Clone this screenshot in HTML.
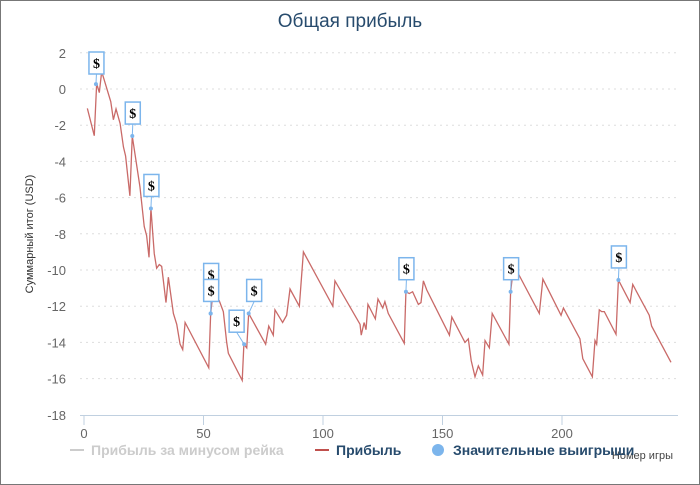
<!DOCTYPE html>
<html><head><meta charset="utf-8"><style>
body{margin:0;background:#fff;}
#wrap{position:relative;width:700px;height:485px;box-sizing:border-box;border:1px solid #777;overflow:hidden;font-family:"Liberation Sans","DejaVu Sans",sans-serif;}
</style></head><body>
<div id="wrap">
<svg id="c" width="700" height="485" style="position:absolute;left:-1px;top:-1px"></svg>
</div>
<script>
const gameX=[1.4,4.3,5.3,6.4,7.4,11.2,12.3,13.4,15.1,16.5,17.4,19.2,20.2,23.4,25.2,26.2,27.2,28.0,29.4,30.4,31.5,32.5,34.3,35.3,37.4,38.8,40.2,41.3,42.3,52.2,53.0,53.6,56.6,58.3,59.7,60.4,66.2,66.9,68.1,68.9,76.0,77.3,79.2,79.9,83.1,84.8,86.2,90.1,91.8,104.1,105.0,115.5,116.0,117.2,118.0,118.8,121.9,123.0,125.0,125.9,127.3,134.0,134.7,136.1,137.5,139.9,141.0,142.0,143.4,152.9,153.9,159.4,160.8,162.0,163.6,165.0,166.8,167.8,169.6,170.8,177.8,178.5,179.4,181.7,190.5,192.0,199.6,200.6,207.5,208.7,212.7,213.8,214.5,215.6,216.6,217.7,222.6,223.6,228.5,229.6,236.5,237.5,245.6];
const profit=[-1.07,-2.58,0.31,-0.2,0.96,-0.7,-1.7,-1.1,-1.9,-3.2,-3.7,-5.9,-2.6,-5.4,-7.6,-8.1,-9.3,-6.6,-9.1,-9.9,-9.7,-9.8,-11.8,-10.4,-12.4,-13.0,-14.1,-14.4,-12.9,-15.4,-12.4,-11.7,-11.7,-12.3,-14.0,-14.6,-16.1,-14.1,-14.3,-12.4,-14.1,-13.1,-13.6,-12.2,-12.9,-12.5,-11.05,-12.0,-9.0,-12.0,-10.6,-13.0,-13.6,-12.9,-13.3,-11.9,-12.7,-11.6,-12.1,-11.75,-12.4,-14.05,-11.2,-11.3,-11.2,-11.9,-11.8,-10.6,-11.1,-13.6,-12.6,-14.0,-13.8,-15.0,-15.9,-15.3,-15.8,-13.9,-14.3,-12.4,-14.1,-11.2,-10.2,-10.2,-12.4,-10.5,-12.5,-12.1,-13.8,-14.9,-15.9,-13.9,-14.1,-12.2,-12.3,-12.3,-13.55,-10.55,-11.8,-10.8,-12.5,-13.1,-15.1];
const winX=[5.0,20.2,28.0,53.0,53.0,67.0,68.9,134.7,178.5,223.6];
const winY=[0.27,-2.6,-6.6,-12.4,-12.4,-14.1,-12.4,-11.2,-11.2,-10.55];
const yTicks=[2,0,-2,-4,-6,-8,-10,-12,-14,-16,-18];
const xTicks=[0,50,100,150,200];
// style: flag offsets
const flagDX=[0,0,0,0,0,-8,5,0,0,0];
const flagDY=[0,0,0,-16,0,0,0,0,0,0];

const NS="http://www.w3.org/2000/svg";
const svg=document.getElementById('c');
const X=v=>84+v*2.39;
const Y=v=>89-v*18.1;
function mk(t,a,p){const e=document.createElementNS(NS,t);for(const k in a)e.setAttribute(k,a[k]);(p||svg).appendChild(e);return e;}

let t=mk('text',{x:350,y:27,'text-anchor':'middle','font-size':19,fill:'#274b6d'});t.textContent='Общая прибыль';



yTicks.forEach(v=>{
 if(v>-18){const g=mk('line',{x1:80,x2:678,y1:Y(v),y2:Y(v),stroke:'#ddd','stroke-dasharray':'2,4'});
 
 }
 const l=mk('text',{x:66,y:Y(v)+5,'text-anchor':'end','font-size':13,fill:'#666'});l.textContent=v;
 
 
});
const ax=mk('line',{x1:80,x2:678,y1:415.5,y2:415.5,stroke:'#c0d0e0'});


xTicks.forEach(v=>{
 const tk=mk('line',{x1:X(v),x2:X(v),y1:415,y2:425,stroke:'#c0d0e0'});
 
 
 const l=mk('text',{x:X(v),y:438,'text-anchor':'middle','font-size':13,fill:'#666'});l.textContent=v;
 
 
});
const yt=mk('text',{transform:'translate(33,234) rotate(-90)','text-anchor':'middle','font-size':11,fill:'#333'});yt.textContent='Суммарный итог (USD)';


const xt=mk('text',{x:673,y:459,'text-anchor':'end','font-size':11,fill:'#444'});xt.textContent='Номер игры';



const pl=mk('polyline',{points:gameX.map((x,i)=>X(x)+','+Y(profit[i])).join(' '),fill:'none',stroke:'#c0504d','stroke-width':1.3,'stroke-opacity':0.85});



winX.forEach((x,i)=>{
 const px=X(x),py=Y(winY[i]);
 let bx=px-7+flagDX[i],by=py-34+flagDY[i];
 if(by<52)by=52;
 const ln=mk('line',{x1:px,y1:py,x2:bx+7.5,y2:by+22,stroke:'#7cb5ec'});
 
 
 const d=mk('circle',{cx:px,cy:py,r:2,fill:'#7cb5ec'});
 
 
 const r=mk('rect',{x:bx,y:by,width:15,height:22,fill:'#fff',stroke:'#7cb5ec','stroke-width':1.5});
 
 
 const s=mk('text',{x:bx+7.5,y:by+16,'text-anchor':'middle','font-size':14,'font-weight':'bold','font-family':'Liberation Serif,serif',fill:'#000'});s.textContent='$';
 
 
});

// legend
const lg=[['Прибыль за минусом рейка',70,'#ccc','#ccc','line'],['Прибыль',315,'#c0504d','#274b6d','line'],['Значительные выигрыши',433,'#7cb5ec','#274b6d','dot']];
lg.forEach(o=>{
 const g=mk('g',{});
 
 
 if(o[4]=='line')mk('line',{x1:o[1],x2:o[1]+14,y1:450,y2:450,stroke:o[2],'stroke-width':2},g);
 else mk('circle',{cx:o[1]+5,cy:450,r:6,fill:o[2]},g);
 const tx=mk('text',{x:o[1]+(o[4]=='line'?21:20),y:455,'font-size':14,'font-weight':'bold',fill:o[3]},g);tx.textContent=o[0];
});
</script>
</body></html>
